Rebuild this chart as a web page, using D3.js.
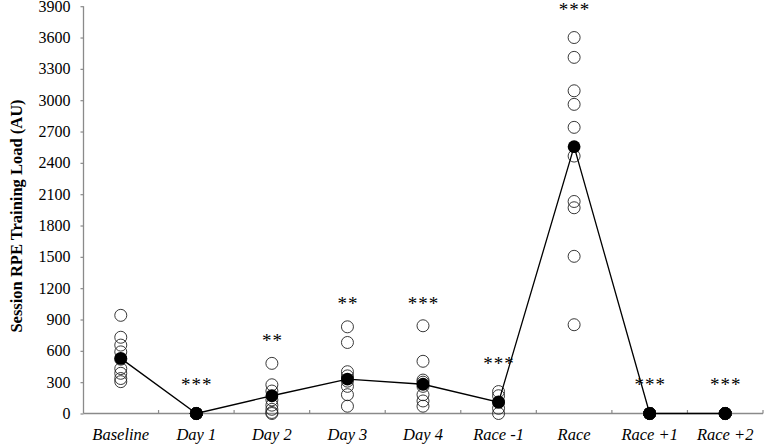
<!DOCTYPE html>
<html>
<head>
<meta charset="utf-8">
<script src="https://cdn.jsdelivr.net/npm/d3@7"></script>
<style>
  html, body { margin: 0; padding: 0; background: #fff; }
  svg { display: block; font-family: "Liberation Serif", "Times New Roman", serif; }
</style>
</head>
<body>
<svg id="chart" width="765" height="444"></svg>
<script>
/* ── Data ─────────────────────────────────────────────────────── */
const categories = ["Baseline", "Day 1", "Day 2", "Day 3", "Day 4", "Race -1", "Race", "Race +1", "Race +2"];
// individual session loads (AU)
const individual = [
  [940, 730, 655, 590, 520, 430, 385, 335, 305],
  [0, 0, 0, 0, 0, 0, 0, 0],
  [480, 275, 215, 130, 80, 40, 10, 0],
  [830, 680, 400, 360, 310, 260, 180, 70],
  [840, 500, 320, 300, 260, 180, 120, 70],
  [210, 170, 110, 50, 0],
  [3600, 3410, 3090, 2960, 2740, 2465, 2030, 1970, 1505, 850],
  [0, 0, 0, 0, 0, 0, 0, 0],
  [0, 0, 0, 0, 0, 0, 0, 0]
];
const means = [528, 0, 170, 330, 280, 108, 2555, 0, 0];
const sigLabels = ["", "***", "**", "**", "***", "***", "***", "***", "***"];
const sigLevel = [0, 300, 720, 1070, 1070, 500, 3890, 300, 300];   // AU, centre of the asterisks
const yTicks = d3.range(0, 3901, 300);

(function () {
  "use strict";

  /* ── Layout ─────────────────────────────────────────────────── */
  const svg = d3.select("#chart");
  const mLeft = 83.5, mRight = 763, mTop = 6.2, mBottom = 413.5;
  const axisGrey = "#8a8a8a";

  const x = d3.scaleBand().domain(categories).range([mLeft - 0.5, mRight]).padding(0);
  const y = d3.scaleLinear().domain([0, 3900]).range([mBottom, mTop]);
  const cx = c => x(c) + x.bandwidth() / 2;

  /* ── Y axis ─────────────────────────────────────────────────── */
  const yAxis = svg.append("g")
    .attr("transform", `translate(${mLeft},0)`)
    .call(d3.axisLeft(y).tickValues(yTicks).tickSize(3).tickPadding(10).tickFormat(d3.format("d")));
  yAxis.select(".domain").attr("stroke", axisGrey).attr("stroke-width", 1.3).attr("d", `M0,${mTop}V${mBottom}`);
  yAxis.selectAll(".tick line").attr("stroke", axisGrey).attr("stroke-width", 1.2);
  yAxis.selectAll(".tick text")
    .attr("font-size", "16px").attr("fill", "#000")
    .attr("font-family", "Liberation Serif");

  /* ── X axis ─────────────────────────────────────────────────── */
  const xAxis = svg.append("g").attr("transform", `translate(0,${mBottom})`);
  xAxis.append("line")
    .attr("x1", mLeft).attr("x2", mRight)
    .attr("stroke", axisGrey).attr("stroke-width", 1.3);
  // tick marks at the band boundaries, pointing up
  xAxis.selectAll("line.tk").data(categories).join("line")
    .attr("class", "tk")
    .attr("x1", d => x(d) + x.bandwidth()).attr("x2", d => x(d) + x.bandwidth())
    .attr("y1", 0).attr("y2", -3.5)
    .attr("stroke", axisGrey).attr("stroke-width", 1.2);
  xAxis.selectAll("text").data(categories).join("text")
    .attr("x", d => cx(d)).attr("y", 26)
    .attr("text-anchor", "middle")
    .attr("font-size", "16.5px").attr("font-style", "italic")
    .text(d => d);

  /* ── Y title ────────────────────────────────────────────────── */
  svg.append("text")
    .attr("transform", "translate(22,216) rotate(-90)")
    .attr("text-anchor", "middle")
    .attr("font-size", "16.5px").attr("font-weight", "bold")
    .text("Session RPE Training Load (AU)");

  /* ── Individual points ──────────────────────────────────────── */
  const pts = categories.flatMap((c, i) => individual[i].map(v => ({ c, v })));
  svg.append("g").selectAll("circle").data(pts).join("circle")
    .attr("cx", d => cx(d.c)).attr("cy", d => y(d.v))
    .attr("r", 6)
    .attr("fill", "none").attr("stroke", "#222").attr("stroke-width", 0.9);

  /* ── Mean line + markers ────────────────────────────────────── */
  const meanData = categories.map((c, i) => ({ c, v: means[i] }));
  svg.append("path").datum(meanData)
    .attr("fill", "none").attr("stroke", "#000").attr("stroke-width", 1.3)
    .attr("d", d3.line().x(d => cx(d.c)).y(d => y(d.v)));
  svg.append("g").selectAll("circle").data(meanData).join("circle")
    .attr("cx", d => cx(d.c)).attr("cy", d => y(d.v))
    .attr("r", 6.4).attr("fill", "#000");

  /* ── Significance asterisks ─────────────────────────────────── */
  svg.append("g").selectAll("text")
    .data(categories.map((c, i) => ({ c, s: sigLabels[i], v: sigLevel[i] })))
    .join("text")
    .attr("x", d => cx(d.c) + 0.5).attr("y", d => y(d.v) + 8.5)
    .attr("text-anchor", "middle")
    .attr("font-size", "19px").attr("letter-spacing", "1px").attr("fill", "#000")
    .text(d => d.s);
})();
</script>
</body>
</html>
